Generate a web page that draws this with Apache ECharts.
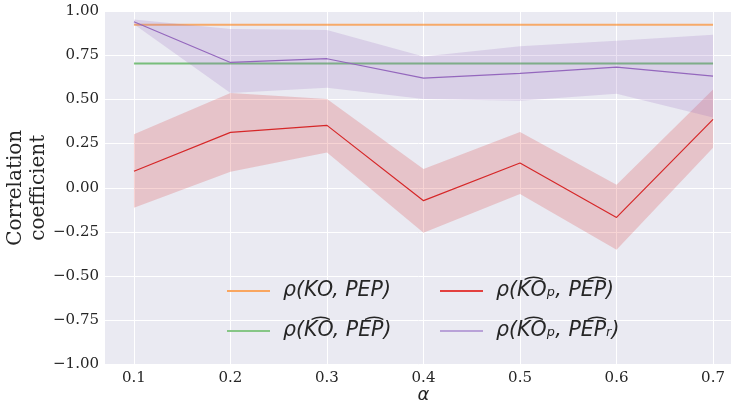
<!DOCTYPE html>
<html><head><meta charset="utf-8">
<script src="https://cdn.jsdelivr.net/npm/echarts@6/dist/echarts.min.js"></script>
<style>html,body{margin:0;padding:0;background:#fff;}#c{width:731px;height:404px;}</style>
</head><body><div id="c"></div>
<script>
const alphas = [0.1, 0.2, 0.3, 0.4, 0.5, 0.6, 0.7];
const rhoKoPep = [0.922, 0.922, 0.922, 0.922, 0.922, 0.922, 0.922];
const rhoKoHatPepHat = [0.703, 0.703, 0.703, 0.703, 0.703, 0.703, 0.703];
const rhoKopPep = [0.093, 0.313, 0.353, -0.073, 0.140, -0.168, 0.387];
const rhoKopPepLow = [-0.113, 0.090, 0.200, -0.255, -0.036, -0.351, 0.226];
const rhoKopPepHigh = [0.302, 0.536, 0.502, 0.106, 0.315, 0.017, 0.556];
const rhoKopPepr = [0.939, 0.709, 0.730, 0.620, 0.647, 0.683, 0.632];
const rhoKopPeprLow = [0.925, 0.536, 0.566, 0.502, 0.492, 0.532, 0.398];
const rhoKopPeprHigh = [0.952, 0.898, 0.892, 0.743, 0.800, 0.832, 0.865];

const names = ['ρ(KO, PEP)', 'ρ(K\u0361O, PE\u0361P)', 'ρ(K\u0361Oₚ, PE\u0361P)', 'ρ(K\u0361Oₚ, PE\u0361Pᵣ)'];
const pts = arr => alphas.map((a, i) => [a, arr[i]]);
const serif = 'DejaVu Serif';
const txt = '#262626';

function bandSeries(lo, hi, color) {
  return {
    type: 'custom', silent: true, z: 3,
    data: alphas.map((a, i) => [a, lo[i], hi[i]]),
    renderItem: function (params, api) {
      if (params.dataIndex !== 0) return null;
      const upper = alphas.map((a, i) => api.coord([a, hi[i]]));
      const lower = alphas.map((a, i) => api.coord([a, lo[i]])).reverse();
      return { type: 'polygon', shape: { points: upper.concat(lower) }, style: { fill: color } };
    }
  };
}

const chart = echarts.init(document.getElementById('c'));
const legendCommon = {
  orient: 'vertical', itemWidth: 43, itemHeight: 2, itemGap: 20, icon: 'rect',
  textStyle: { fontFamily: 'DejaVu Sans', fontStyle: 'italic', fontSize: 20.5, color: txt, padding: [0, 0, 0, 8] }
};
chart.setOption({
  animation: false,
  grid: { left: 105, right: -11, top: 11, bottom: 39.5, show: true, backgroundColor: '#EAEAF2', borderWidth: 0, outerBoundsMode: 'none', containLabel: false },
  xAxis: {
    type: 'value', min: 0.07, max: 0.73,
    axisLine: { show: false },
    splitLine: { lineStyle: { color: '#ffffff', width: 1 } },
    axisLabel: { fontFamily: serif, fontSize: 15, color: txt, margin: 6,
      customValues: alphas, formatter: v => v.toFixed(1) },
    axisTick: { show: false, customValues: alphas },
    name: 'α', nameLocation: 'middle', nameGap: 22, nameMoveOverlap: false,
    nameTextStyle: { fontFamily: 'DejaVu Sans', fontStyle: 'italic', fontSize: 18, color: txt }
  },
  yAxis: {
    type: 'value', min: -1, max: 1, interval: 0.25,
    axisLine: { show: false }, axisTick: { show: false },
    splitLine: { lineStyle: { color: '#ffffff', width: 1 } },
    axisLabel: { fontFamily: serif, fontSize: 15, color: txt, margin: 6,
      formatter: v => (v < 0 ? '\u2212' : '') + Math.abs(v).toFixed(2) },
    name: 'Correlation\ncoefficient', nameLocation: 'middle', nameGap: 55, nameRotate: 90, nameMoveOverlap: false,
    nameTextStyle: { fontFamily: serif, fontSize: 20, color: txt, lineHeight: 23 }
  },
  legend: [
    Object.assign({ left: 222, top: 276, data: [names[0], names[1]] }, legendCommon),
    Object.assign({ left: 435, top: 276, data: [names[2], names[3]] }, legendCommon)
  ],
  series: [
    { name: names[0], type: 'line', data: pts(rhoKoPep), showSymbol: false, z: 2,
      lineStyle: { color: '#ff7f0e', width: 2, opacity: 0.6 }, itemStyle: { color: '#f9a660' } },
    { name: names[1], type: 'line', data: pts(rhoKoHatPepHat), showSymbol: false, z: 2,
      lineStyle: { color: '#2ca02c', width: 2, opacity: 0.6 }, itemStyle: { color: '#86c686' } },
    bandSeries(rhoKopPepLow, rhoKopPepHigh, 'rgba(214,39,40,0.2)'),
    { name: names[2], type: 'line', data: pts(rhoKopPep), showSymbol: false, z: 4,
      lineStyle: { color: '#d62728', width: 1.2 }, itemStyle: { color: '#e3413f' } },
    bandSeries(rhoKopPeprLow, rhoKopPeprHigh, 'rgba(148,103,189,0.2)'),
    { name: names[3], type: 'line', data: pts(rhoKopPepr), showSymbol: false, z: 4,
      lineStyle: { color: '#9467bd', width: 1.2 }, itemStyle: { color: '#b9a2d8' } }
  ]
});
</script></body></html>
